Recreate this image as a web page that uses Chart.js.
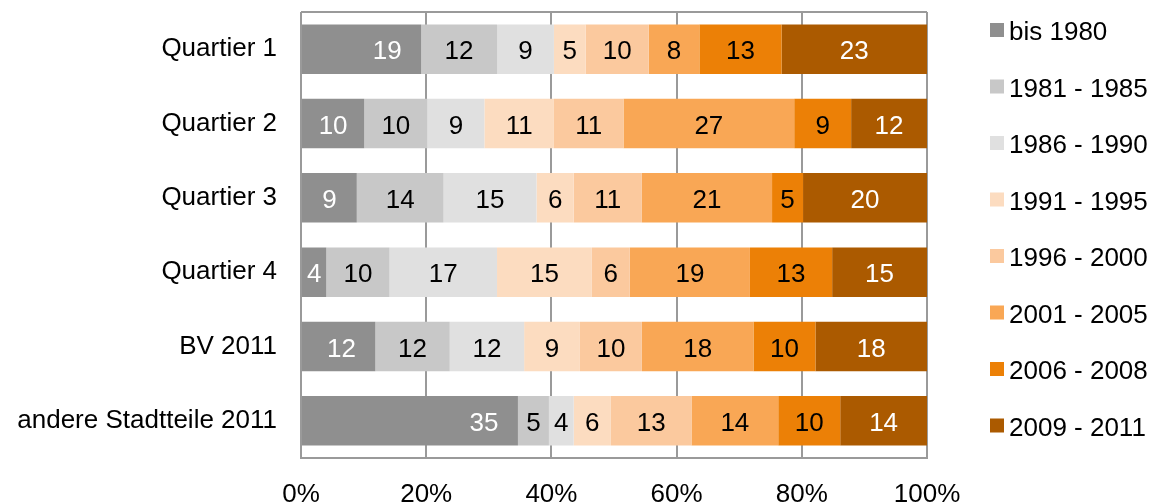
<!DOCTYPE html>
<html>
<head>
<meta charset="utf-8">
<script src="https://cdn.jsdelivr.net/npm/chart.js@4"></script>
<style>
  html, body { margin: 0; padding: 0; background: #fff; }
  #wrap { width: 1153px; height: 502px; position: relative; }
</style>
</head>
<body>
<div id="wrap"><canvas id="chart"></canvas></div>
<script>
// Kategorien (Zeilen) und Baujahresklassen (Serien)
var categories = ["Quartier 1", "Quartier 2", "Quartier 3", "Quartier 4", "BV 2011", "andere Stadtteile 2011"];
var seriesNames = ["bis 1980", "1981 - 1985", "1986 - 1990", "1991 - 1995", "1996 - 2000", "2001 - 2005", "2006 - 2008", "2009 - 2011"];

// Werte in Prozent, je Serie (Reihenfolge wie categories)
var bis1980   = [19, 10,  9,  4, 12, 35];
var y1981_85  = [12, 10, 14, 10, 12,  5];
var y1986_90  = [ 9,  9, 15, 17, 12,  4];
var y1991_95  = [ 5, 11,  6, 15,  9,  6];
var y1996_00  = [10, 11, 11,  6, 10, 13];
var y2001_05  = [ 8, 27, 21, 19, 18, 14];
var y2006_08  = [13,  9,  5, 13, 10, 10];
var y2009_11  = [23, 12, 20, 15, 18, 14];

var xTicks = [0, 20, 40, 60, 80, 100];

var seriesValues = [bis1980, y1981_85, y1986_90, y1991_95, y1996_00, y2001_05, y2006_08, y2009_11];
var colors = ["#8f8f8f", "#c8c8c8", "#e0e0e0", "#fcdcc0", "#fbc99e", "#f9a755", "#ec8006", "#ab5a00"];
var labelColors = ["#fff", "#000", "#000", "#000", "#000", "#000", "#000", "#fff"];

// Summe pro Zeile -> Balken auf 100% skalieren (Excel-Stil)
var rowSums = categories.map(function(c, i){
    var s = 0;
    seriesValues.forEach(function(v){ s += v[i]; });
    return s;
});

var datasets = seriesNames.map(function(name, k){
    return {
        label: name,
        data: seriesValues[k].map(function(v, i){ return v / rowSums[i] * 100; }),
        raw: seriesValues[k],
        backgroundColor: colors[k],
        borderWidth: 0,
        categoryPercentage: 0.667,
        barPercentage: 1.0
    };
});

var FONT = "'Liberation Sans', Arial, sans-serif";

// Rahmen oben um die Zeichenfläche
var framePlugin = {
    id: 'frame',
    beforeDatasetsDraw: function(chart){
        var a = chart.chartArea, ctx = chart.ctx;
        ctx.save();
        ctx.strokeStyle = '#9a9a9a';
        ctx.lineWidth = 2;
        ctx.beginPath();
        ctx.moveTo(a.left, a.top);
        ctx.lineTo(a.right, a.top);
        ctx.stroke();
        ctx.restore();
    }
};

// Werte in die Balken schreiben
var valuePlugin = {
    id: 'values',
    afterDatasetsDraw: function(chart){
        var ctx = chart.ctx;
        ctx.save();
        ctx.font = "26px " + FONT;
        ctx.textBaseline = 'middle';
        ctx.textAlign = 'center';
        chart.data.datasets.forEach(function(ds, k){
            var meta = chart.getDatasetMeta(k);
            meta.data.forEach(function(bar, i){
                var start = bar.base, end = bar.x;
                var x = (start + end) / 2;
                if (k === 0) x = Math.max(x, end - 34);
                ctx.fillStyle = labelColors[k];
                ctx.fillText(String(ds.raw[i]), x, bar.y + 3);
            });
        });
        ctx.restore();
    }
};

// Legende rechts
var legendPlugin = {
    id: 'customLegend',
    afterDraw: function(chart){
        var ctx = chart.ctx;
        ctx.save();
        ctx.font = "26px " + FONT;
        ctx.textBaseline = 'middle';
        ctx.textAlign = 'left';
        seriesNames.forEach(function(name, k){
            var cy = 33 + k * 56.5;
            ctx.fillStyle = colors[k];
            ctx.fillRect(990, cy - 10, 14, 14);
            ctx.fillStyle = '#000';
            ctx.fillText(name, 1009, cy);
        });
        ctx.restore();
    }
};

new Chart(document.getElementById('chart'), {
    type: 'bar',
    data: { labels: categories, datasets: datasets },
    options: {
        indexAxis: 'y',
        responsive: true,
        maintainAspectRatio: false,
        animation: false,
        layout: { padding: { top: 12, right: 226, bottom: 0, left: 0 } },
        plugins: {
            legend: { display: false },
            tooltip: { enabled: false }
        },
        scales: {
            x: {
                stacked: true,
                min: 0,
                max: 100,
                afterBuildTicks: function(scale){
                    scale.ticks = xTicks.map(function(v){ return { value: v }; });
                },
                afterFit: function(scale){ scale.height = 44; },
                ticks: {
                    padding: 24,
                    color: '#000',
                    font: { family: FONT, size: 26, lineHeight: 1 },
                    callback: function(v){ return v + '%'; }
                },
                grid: { color: '#9a9a9a', lineWidth: 2, drawTicks: false },
                border: { color: '#9a9a9a', width: 2 }
            },
            y: {
                stacked: true,
                afterFit: function(scale){ scale.width = 301; },
                ticks: {
                    padding: 0,
                    color: '#000',
                    font: { family: FONT, size: 26, lineHeight: 0.9 }
                },
                grid: { display: true, drawOnChartArea: false, drawTicks: true, tickLength: 24, tickColor: 'rgba(0,0,0,0)', color: 'rgba(0,0,0,0)' },
                border: { display: false }
            }
        }
    },
    plugins: [framePlugin, valuePlugin, legendPlugin]
});
</script>
</body>
</html>
